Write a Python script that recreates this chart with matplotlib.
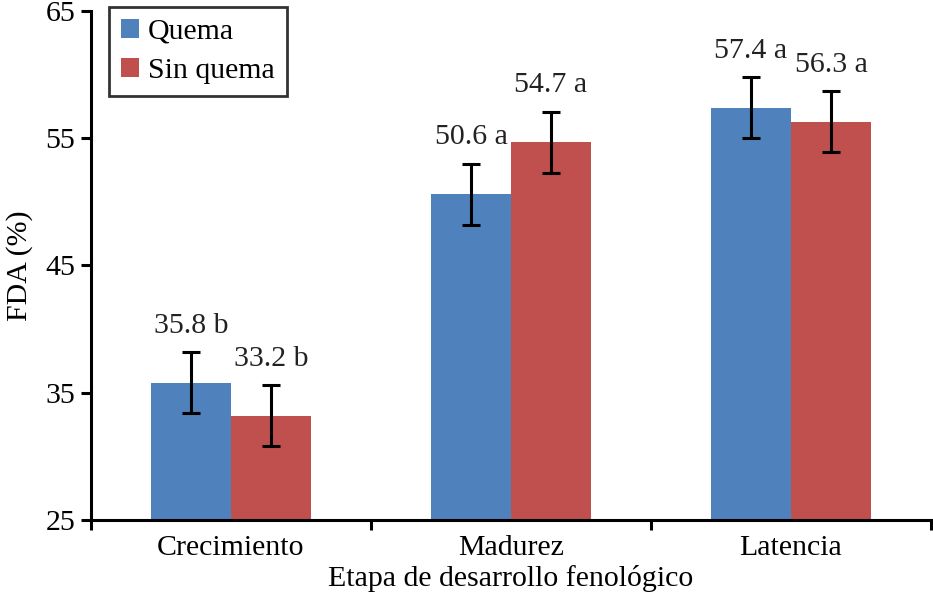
import matplotlib
matplotlib.use("Agg")
import matplotlib.pyplot as plt
import numpy as np

plt.rcParams['font.family'] = ['Liberation Serif', 'DejaVu Serif']

etapas = ['Crecimiento', 'Madurez', 'Latencia']
quema = [35.8, 50.6, 57.4]
sin_quema = [33.2, 54.7, 56.3]
err_quema = [2.4, 2.4, 2.4]
err_sin = [2.4, 2.4, 2.4]
lab_quema = ['35.8 b', '50.6 a', '57.4 a']
lab_sin = ['33.2 b', '54.7 a', '56.3 a']

azul = '#4F81BD'
rojo = '#C0504D'
fs = 21.5

fig = plt.figure(figsize=(9.33, 5.98), dpi=100)
ax = fig.add_axes([91/933, 1-520/598, 840/933, 509/598])

x = np.arange(len(etapas))
w = 80/280
ekw = dict(ecolor='black', elinewidth=2.2, capsize=6.5, capthick=2.2)
ax.bar(x - w/2, np.array(quema) - 25, w, bottom=25, color=azul, yerr=err_quema,
       error_kw=ekw, label='Quema')
ax.bar(x + w/2, np.array(sin_quema) - 25, w, bottom=25, color=rojo, yerr=err_sin,
       error_kw=ekw, label='Sin quema')

for i in range(len(etapas)):
    ax.annotate(lab_quema[i], (x[i] - w/2, quema[i] + err_quema[i]),
                xytext=(0, 14), textcoords='offset points', ha='center',
                va='baseline', fontsize=fs, color='#222222')
    ax.annotate(lab_sin[i], (x[i] + w/2, sin_quema[i] + err_sin[i]),
                xytext=(0, 14), textcoords='offset points', ha='center',
                va='baseline', fontsize=fs, color='#222222')

ax.set_xlim(-0.5, 2.5)
ax.set_ylim(25, 65)
ax.set_yticks([25, 35, 45, 55, 65])
ax.set_xticks(x)
ax.set_xticklabels(etapas, fontsize=fs)
ax.set_xticks([-0.5, 0.5, 1.5, 2.5], minor=True)
ax.tick_params(axis='x', which='major', length=0, pad=11)
ax.tick_params(axis='x', which='minor', length=7.5, width=2.2, direction='out')
ax.tick_params(axis='y', length=7.5, width=2.2, direction='out', labelsize=fs, pad=4)

for s in ['top', 'right']:
    ax.spines[s].set_visible(False)
for s in ['left', 'bottom']:
    ax.spines[s].set_linewidth(2.2)

ax.set_ylabel('FDA (%)', fontsize=fs, labelpad=9)
ax.set_xlabel('Etapa de desarrollo fenológico', fontsize=fs, labelpad=3)

leg = ax.legend(loc='upper left', bbox_to_anchor=(18/840, 1.0 + 4/509), fontsize=fs,
                frameon=True, fancybox=False, handlelength=0.6, handleheight=0.6,
                handletextpad=0.3, borderpad=0.4, labelspacing=0.45, borderaxespad=0)
leg.get_frame().set_edgecolor('black')
leg.get_frame().set_linewidth(2)

fig.savefig('out.png', dpi=100)
